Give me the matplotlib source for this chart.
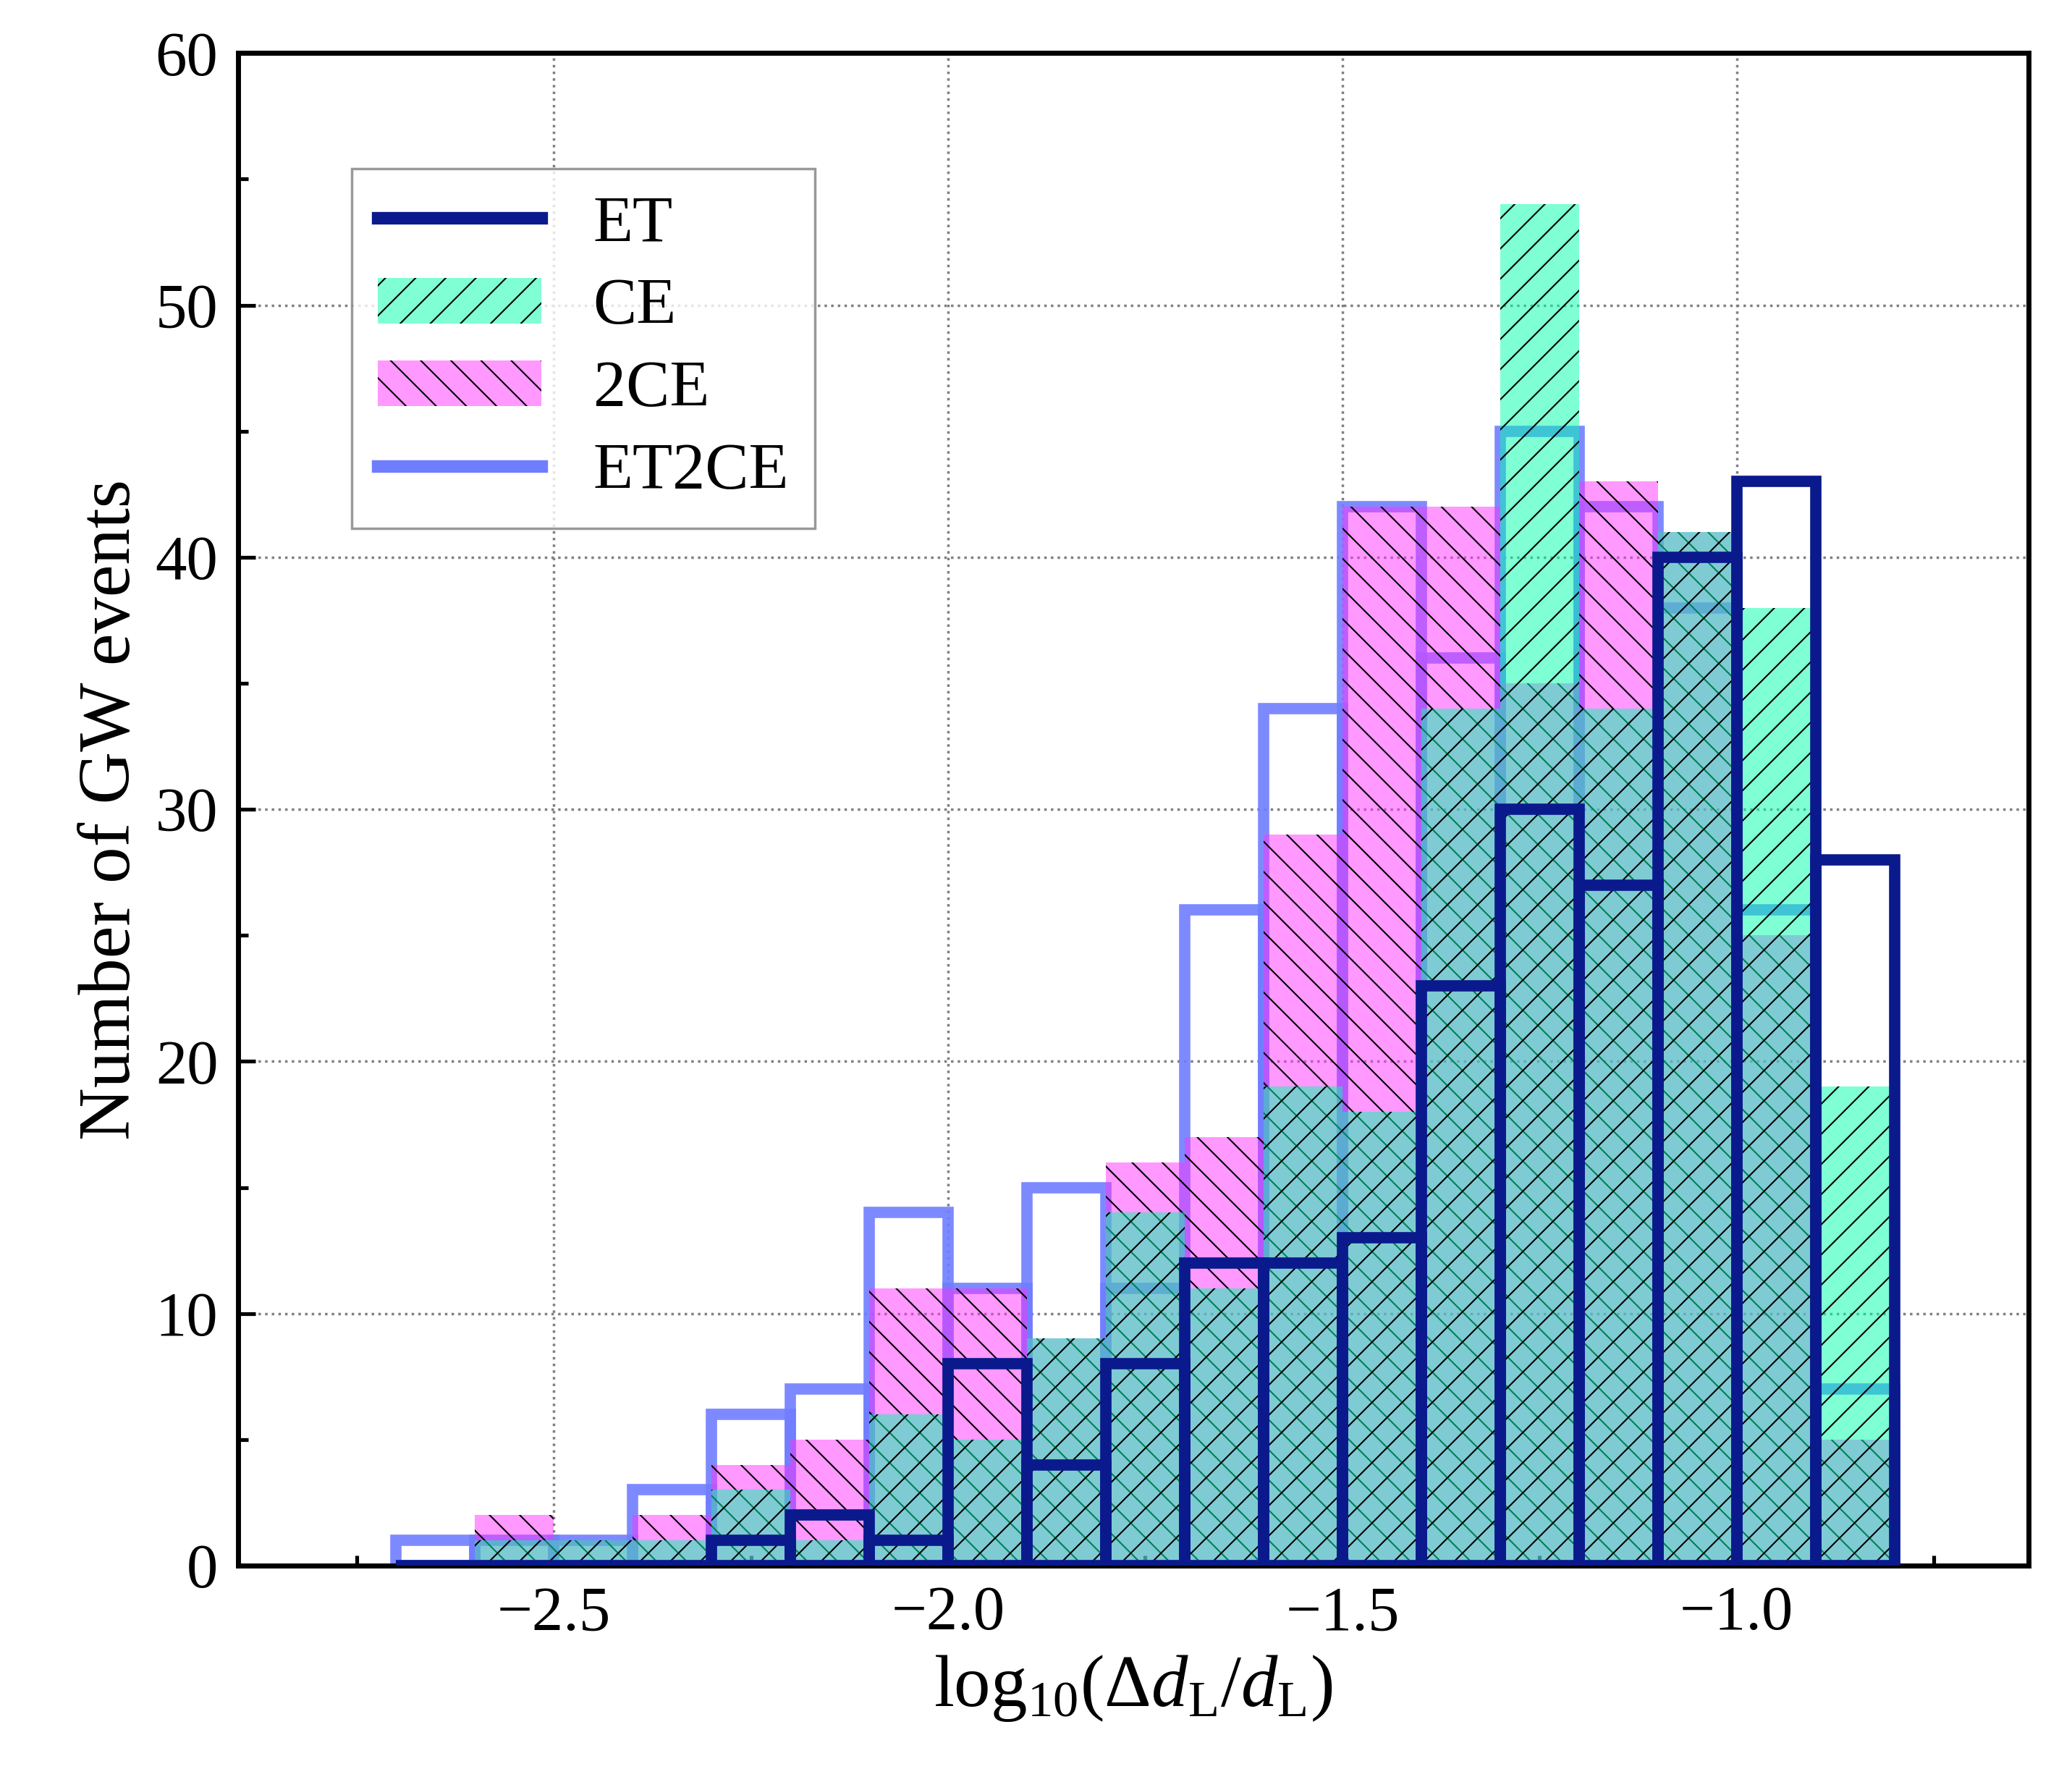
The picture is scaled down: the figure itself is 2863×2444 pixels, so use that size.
import numpy as np
import matplotlib
matplotlib.use("Agg")
import matplotlib.pyplot as plt
from matplotlib.ticker import MultipleLocator

edges = np.round(np.arange(-2.7, -0.79, 0.1), 2)
centers = edges[:-1] + 0.05
ET     = [0,0,0,0,1,2,1,8,4,8,12,12,13,23,30,27,40,43,28]
CE     = [0,1,1,1,3,1,6,5,9,14,11,19,18,34,54,34,41,38,19]
CE2    = [0,2,1,2,4,5,11,11,9,16,17,29,42,42,35,43,41,25,5]
ET2CE  = [1,1,1,3,6,7,14,11,15,11,26,34,42,36,45,42,38,26,7]

plt.rcParams['font.family'] = 'Liberation Serif'
plt.rcParams['mathtext.fontset'] = 'custom'
plt.rcParams['mathtext.rm'] = 'Liberation Serif'
plt.rcParams['mathtext.it'] = 'Liberation Serif:italic'
plt.rcParams['hatch.linewidth'] = 0.6
fig = plt.figure(figsize=(2863/250, 2444/250), dpi=250)
ax = fig.add_axes([0.115, 0.115, 0.864, 0.855])

ax.hist(centers, bins=edges, weights=ET2CE, histtype='bar', facecolor='none', edgecolor='#6f7dff', alpha=0.9, lw=4.5, zorder=1)
ax.hist(centers, bins=edges, weights=CE2, histtype='stepfilled', color='#ff33ff', alpha=0.5, zorder=2)
ax.hist(centers, bins=edges, weights=CE2, histtype='stepfilled', facecolor='none', edgecolor='k', hatch='\\\\', lw=0, zorder=2)
ax.hist(centers, bins=edges, weights=CE, histtype='stepfilled', color='#00ffaa', alpha=0.5, zorder=3)
ax.hist(centers, bins=edges, weights=CE, histtype='stepfilled', facecolor='none', edgecolor='k', hatch='//', lw=0, zorder=3)
ax.hist(centers, bins=edges, weights=ET, histtype='bar', facecolor='none', edgecolor='#0a1a8c', lw=4.5, zorder=5)

from matplotlib.patches import Patch
from matplotlib.lines import Line2D
handles = [Line2D([], [], color='#0a1a8c', lw=5),
           Patch(facecolor='#80ffd4', edgecolor='k', hatch='//', lw=0),
           Patch(facecolor='#ff99ff', edgecolor='k', hatch='\\\\', lw=0),
           Line2D([], [], color='#6f7dff', lw=5)]
leg = ax.legend(handles, ['ET', 'CE', '2CE', 'ET2CE'], loc='upper left', bbox_to_anchor=(0.045, 0.945),
                fontsize=26, fancybox=False, edgecolor='gray', handlelength=2.5, labelspacing=0.35)
leg.get_frame().set_linewidth(1)

ax.set_xlim(-2.9, -0.63)
ax.set_ylim(0, 60)
ax.xaxis.set_major_locator(MultipleLocator(0.5))
ax.xaxis.set_minor_locator(MultipleLocator(0.25))
ax.yaxis.set_major_locator(MultipleLocator(10))
ax.yaxis.set_minor_locator(MultipleLocator(5))
ax.tick_params(which='both', direction='in', labelsize=25, width=1.5)
ax.tick_params(which='major', length=7, pad=8)
ax.tick_params(which='minor', length=4)
ax.grid(True, which='major', ls=':', color='gray', lw=1, zorder=0)
ax.set_axisbelow(True)
for s in ax.spines.values():
    s.set_linewidth(2)
ax.set_xlabel(r'$\mathrm{log_{10}(\Delta}\mathit{d}_\mathrm{L}/\mathit{d}_\mathrm{L})$', fontsize=29)
ax.set_ylabel('Number of GW events', fontsize=29)
fig.savefig('out.png', dpi=250)
